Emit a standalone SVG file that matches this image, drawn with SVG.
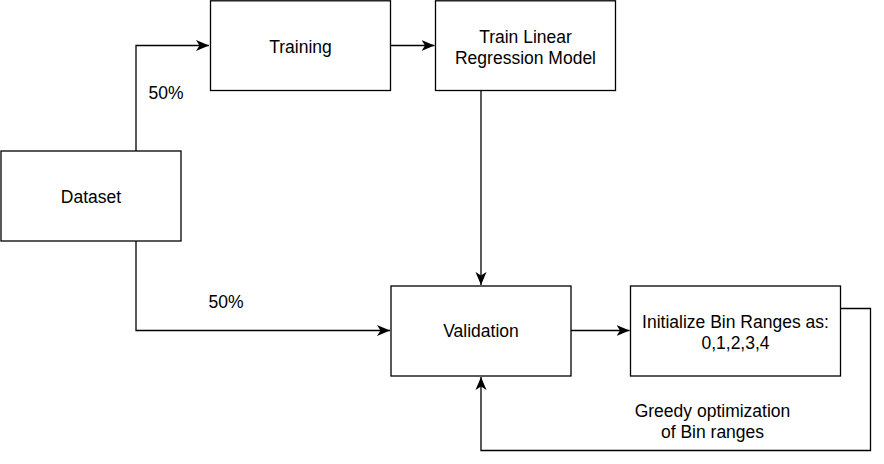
<svg xmlns="http://www.w3.org/2000/svg" width="884" height="464" viewBox="0 0 884 464">
<style>
.box{fill:#fff;stroke:#000;stroke-width:1.3}
.t{font-family:"Liberation Sans",Arial,Helvetica,sans-serif;font-size:17.5px;fill:#000;text-anchor:middle}
.c{fill:none;stroke:#000;stroke-width:1.3}
</style>
<defs>
<marker id="ah" markerUnits="userSpaceOnUse" markerWidth="14" markerHeight="12" viewBox="0 0 14 12" refX="13" refY="6" orient="auto">
<path d="M0,0.5 L13,6 L0,11.5 L3.5,6 Z" fill="#000"/>
</marker>
</defs>
<g id="connectors">
<path class="c" d="M136,151 V45.5 H209" marker-end="url(#ah)"/>
<path class="c" d="M136,241 V330.5 H390" marker-end="url(#ah)"/>
<path class="c" d="M390.5,45.5 H434.5" marker-end="url(#ah)"/>
<path class="c" d="M481,90.5 V285" marker-end="url(#ah)"/>
<path class="c" d="M571,330.5 H629.5" marker-end="url(#ah)"/>
<path class="c" d="M840.5,308.5 H870.5 V450.5 H481 V377" marker-end="url(#ah)"/>
<text class="t" x="166" y="98.5">50%</text>
<text class="t" x="226" y="307.5">50%</text>
<text class="t" x="712.5" y="416.5">Greedy optimization</text>
<text class="t" x="712.5" y="437.5">of Bin ranges</text>
</g>
<g id="dataset">
<rect class="box" x="1" y="151" width="180" height="90"/>
<text class="t" x="91" y="202.5">Dataset</text>
</g>
<g id="training">
<rect class="box" x="210.5" y="0.8" width="180" height="89.7"/>
<text class="t" x="300.5" y="52.5">Training</text>
</g>
<g id="train-lr">
<rect class="box" x="435.5" y="0.8" width="180" height="89.7"/>
<text class="t" x="525.5" y="42.5">Train Linear</text>
<text class="t" x="525.5" y="64">Regression Model</text>
</g>
<g id="validation">
<rect class="box" x="391" y="286" width="180" height="90"/>
<text class="t" x="481" y="337">Validation</text>
</g>
<g id="init-bins">
<rect class="box" x="630.5" y="286" width="210" height="90"/>
<text class="t" x="735.5" y="327.5">Initialize Bin Ranges as:</text>
<text class="t" x="735.5" y="348.5">0,1,2,3,4</text>
</g>
</svg>
